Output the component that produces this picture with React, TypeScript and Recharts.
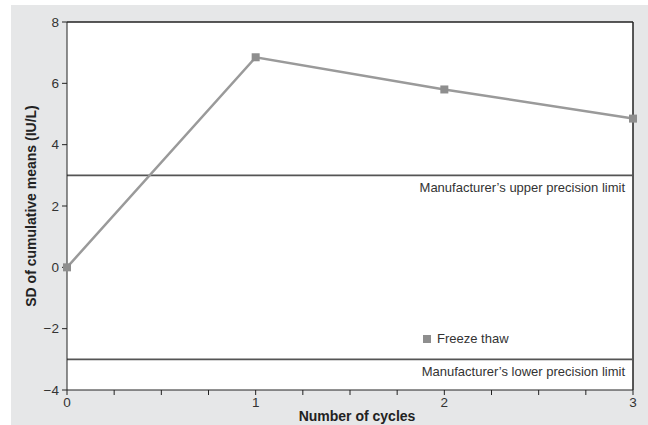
import React from 'react';
import {
  LineChart, Line, XAxis, YAxis, ReferenceLine, ReferenceArea, Legend
} from 'recharts';

const cycles = [0, 1, 2, 3];
const freezeThaw = [0, 6.85, 5.8, 4.85];
const xTicks = [0, 0.25, 0.5, 0.75, 1, 1.25, 1.5, 1.75, 2, 2.25, 2.5, 2.75, 3];
const yTicks = [-4, -2, 0, 2, 4, 6, 8];
const upperLimit = 3;
const lowerLimit = -3;
const upperLabel = 'Manufacturer\u2019s upper precision limit';
const lowerLabel = 'Manufacturer\u2019s lower precision limit';
const seriesName = 'Freeze thaw';

const data = cycles.map((c, i) => ({ cycle: c, value: freezeThaw[i] }));

const FONT = '"Liberation Sans", Arial, sans-serif';

const SquareDot = (props: any) => {
  const { cx, cy } = props;
  if (cx == null || cy == null) return null;
  return <rect x={cx - 4} y={cy - 4} width={8} height={8} fill="#8e8e8e" />;
};

const limitLabel = (text: string) => (props: any) => {
  const vb = props.viewBox || {};
  return (
    <text
      x={vb.x + vb.width - 8}
      y={vb.y + 17}
      textAnchor="end"
      fontSize={13}
      fill="#333"
      fontFamily={FONT}
    >
      {text}
    </text>
  );
};

const fmtY = (v: number) => (v < 0 ? `\u2212${-v}` : `${v}`);
const fmtX = (v: number) => (Number.isInteger(v) ? `${v}` : '');

const LegendBox = () => (
  <div style={{ display: 'flex', alignItems: 'center', fontFamily: FONT, fontSize: 13, color: '#333' }}>
    <span style={{ width: 8, height: 8, background: '#8e8e8e', display: 'inline-block', marginRight: 6 }} />
    {seriesName}
  </div>
);

export default function App() {
  return (
    <div style={{ position: 'absolute', left: 0, top: 0, width: 648, height: 425, background: '#fff', fontFamily: FONT }}>
      <div style={{ position: 'absolute', left: 11, top: 5, right: 0, bottom: 0, background: '#e6e7e8' }} />
      <div style={{ position: 'absolute', left: 0, top: 0 }}>
        <LineChart width={648} height={425} data={data} margin={{ top: 22, right: 15, left: 11, bottom: 0 }}>
          <ReferenceArea x1={0} x2={3} y1={-4} y2={8} fill="#fff" fillOpacity={1} stroke="none" />
          <XAxis
            dataKey="cycle"
            type="number"
            domain={[0, 3]}
            ticks={xTicks}
            tickFormatter={fmtX}
            interval={0}
            height={35}
            stroke="#222"
            tickSize={5}
            tick={{ fontSize: 13.5, fill: '#333' }}
            label={{
              content: (p: any) => {
                const vb = p.viewBox || {};
                return (
                  <text x={357} y={vb.y + 31} textAnchor="middle" fontWeight="bold" fontSize={14} fill="#222" fontFamily={FONT}>
                    Number of cycles
                  </text>
                );
              }
            }}
          />
          <YAxis
            type="number"
            domain={[-4, 8]}
            ticks={yTicks}
            tickFormatter={fmtY}
            interval={0}
            width={56}
            stroke="#222"
            tickSize={5}
            tickMargin={3}
            tick={{ fontSize: 13.5, fill: '#333' }}
            label={{
              content: (p: any) => {
                const vb = p.viewBox || {};
                const cy = vb.y + vb.height / 2;
                return (
                  <text x={31} y={cy} transform={`rotate(-90, 31, ${cy})`} textAnchor="middle" dominantBaseline="central" fontWeight="bold" fontSize={14} fill="#222" fontFamily={FONT}>
                    SD of cumulative means (IU/L)
                  </text>
                );
              }
            }}
          />
          <ReferenceLine y={8} stroke="#222" strokeWidth={1.5} />
          <ReferenceLine x={3} stroke="#222" strokeWidth={1.5} />
          <ReferenceLine y={upperLimit} stroke="#555" strokeWidth={1.8} label={limitLabel(upperLabel)} />
          <ReferenceLine y={lowerLimit} stroke="#555" strokeWidth={1.8} label={limitLabel(lowerLabel)} />
          <Line
            dataKey="value"
            name={seriesName}
            stroke="#9a9a9a"
            strokeWidth={2.5}
            dot={<SquareDot />}
            activeDot={false}
            isAnimationActive={false}
          />
          <Legend
            layout="vertical"
            align="center"
            verticalAlign="middle"
            content={() => <LegendBox />}
            wrapperStyle={{ position: 'absolute', left: 423, top: 331, width: 'auto' }}
          />
        </LineChart>
      </div>
    </div>
  );
}
